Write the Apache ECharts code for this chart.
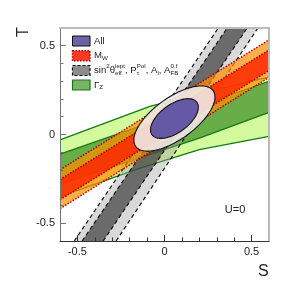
<!DOCTYPE html>
<html><head><meta charset="utf-8">
<script src="https://cdn.jsdelivr.net/npm/echarts@6/dist/echarts.min.js"></script>
<style>html,body{margin:0;padding:0;background:#fff;}#c{width:299px;height:284px;}</style>
</head><body><div id="c"></div>
<script>
// ---------------- data (S, T units) ----------------
const axisRange = [-0.6, 0.6];
const xTickValues = [-0.5, 0, 0.5];
const yTickValues = [-0.5, 0, 0.5];
const xMinorTicks = [-0.4, -0.3, -0.2, -0.1, 0.1, 0.2, 0.3, 0.4];
const yMinorTicks = [-0.4, -0.3, -0.2, -0.1, 0.1, 0.2, 0.3, 0.4];

// Gamma_Z band (68% inner, 95% outer), edges as [S, T]
const gzOuterUpper = [[-0.6, -0.03], [-0.08, 0.16], [0.6, 0.325]];
const gzOuterLower = [[-0.6, -0.35], [-0.14, -0.19], [0.2, -0.085], [0.6, -0.01]];
const gzInnerUpper = [[-0.6, -0.11], [0.6, 0.30]];
const gzInnerLower = [[-0.6, -0.28], [0.2, -0.02], [0.6, 0.125]];

// M_W band
const mwOuterUpper = [[-0.6, -0.198], [0.6, 0.533]];
const mwInnerUpper = [[-0.6, -0.254], [0.6, 0.476]];
const mwInnerLower = [[-0.6, -0.367], [0.6, 0.36]];
const mwOuterLower = [[-0.6, -0.418], [0.6, 0.322]];

// sin2theta_eff, P_tau, A_l, A_FB band
const swOuterLeft = [[-0.518, -0.6], [0.309, 0.6]];
const swInnerLeft = [[-0.473, -0.6], [0.36, 0.6]];
const swInnerRight = [[-0.352, -0.6], [0.475, 0.6]];
const swOuterRight = [[-0.278, -0.6], [0.536, 0.6]];

// "All" fit contours: centre, semi-axes, orientation
const allCenter = [0.057, 0.09];
const all68Axes = [0.158, 0.08];
const all95Axes = [0.272, 0.118];
const allAngleDeg = [35];

// texts
const legendRows = [
  [{t: 'All'}],
  [{t: 'M'}, {sub: 'W'}],
  [{t: 'sin'}, {sup: '2'}, {t: 'θ'}, {sup: 'lept', sub: 'eff'}, {t: ', P'}, {sup: 'Pol', sub: 'τ'},
   {t: ', A'}, {sub: 'l'}, {t: ', A'}, {sup: '0,f', sub: 'FB'}],
  [{t: 'Γ'}, {sub: 'Z'}]
];
const xAxisTitle = ['S'];
const yAxisTitle = ['T'];
const noteText = ['U=0'];

// ---------------- drawing ----------------
const FONT = '"Liberation Sans", Arial, Helvetica, sans-serif';
const chart = echarts.init(document.getElementById('c'), null, {renderer: 'canvas'});

function band(upper, lower) { return upper.concat(lower.slice().reverse()); }

function polySeries(pts, fill, z) {
  return {
    type: 'custom', silent: true, clip: true, z: z, xAxisIndex: 0, yAxisIndex: 0,
    data: [pts[0]],
    renderItem: function (params, api) {
      return {type: 'polygon', shape: {points: pts.map(p => api.coord(p))},
              style: {fill: fill, stroke: null}};
    }
  };
}
function edgeSeries(pts, color, width, type, z) {
  return {type: 'line', silent: true, z: z, xAxisIndex: 0, yAxisIndex: 0, data: pts, symbol: 'none',
          lineStyle: {color: color, width: width, type: type}, emphasis: {disabled: true}};
}
function ellipseSeries(center, axes, angleDeg, fill, z) {
  return {
    type: 'custom', silent: true, clip: true, z: z, xAxisIndex: 0, yAxisIndex: 0,
    data: [center],
    renderItem: function (params, api) {
      const phi = angleDeg * Math.PI / 180, pts = [];
      for (let k = 0; k < 120; k++) {
        const t = 2 * Math.PI * k / 120;
        const s = center[0] + axes[0] * Math.cos(t) * Math.cos(phi) - axes[1] * Math.sin(t) * Math.sin(phi);
        const u = center[1] + axes[0] * Math.cos(t) * Math.sin(phi) + axes[1] * Math.sin(t) * Math.cos(phi);
        pts.push(api.coord([s, u]));
      }
      return {type: 'polygon', shape: {points: pts}, style: {fill: fill, stroke: '#111', lineWidth: 1.1}};
    }
  };
}

const GZ_LINE = '#137a13', MW_LINE = '#b00000', SW_LINE = '#111';
const series = [
  polySeries(band(gzOuterUpper, gzOuterLower), '#d3fa9d', 1),
  polySeries(band(gzInnerUpper, gzInnerLower), '#68ad48', 1),
  edgeSeries(gzOuterUpper, GZ_LINE, 1.3, 'solid', 2),
  edgeSeries(gzOuterLower, GZ_LINE, 1.3, 'solid', 2),
  edgeSeries(gzInnerUpper, GZ_LINE, 1.3, 'solid', 2),
  edgeSeries(gzInnerLower, GZ_LINE, 1.3, 'solid', 2),

  polySeries(band(swOuterLeft, swOuterRight), 'rgba(160,160,160,0.4)', 3),
  polySeries(band(swInnerLeft, swInnerRight), 'rgba(60,60,60,0.7)', 3),
  edgeSeries(swOuterLeft, SW_LINE, 1.2, [4, 3], 4),
  edgeSeries(swInnerLeft, SW_LINE, 1.2, [4, 3], 4),
  edgeSeries(swInnerRight, SW_LINE, 1.2, [4, 3], 4),
  edgeSeries(swOuterRight, SW_LINE, 1.2, [4, 3], 4),

  polySeries(band(mwOuterUpper, mwOuterLower), 'rgba(255,140,0,0.7)', 5),
  polySeries(band(mwInnerUpper, mwInnerLower), 'rgba(255,40,0,0.85)', 5),
  edgeSeries(mwOuterUpper, MW_LINE, 1.5, [1.5, 1.5], 6),
  edgeSeries(mwInnerUpper, MW_LINE, 1.5, [1.5, 1.5], 6),
  edgeSeries(mwInnerLower, MW_LINE, 1.5, [1.5, 1.5], 6),
  edgeSeries(mwOuterLower, MW_LINE, 1.5, [1.5, 1.5], 6),

  ellipseSeries(allCenter, all95Axes, allAngleDeg[0], 'rgba(238,234,231,0.9)', 7),
  ellipseSeries(allCenter, all68Axes, allAngleDeg[0], '#6559a5', 8)
];

function fmt(v) { return Math.abs(v) < 1e-9 ? '0' : String(Math.round(v * 10) / 10); }
const base = {type: 'value', min: axisRange[0], max: axisRange[1], splitLine: {show: false}, z: 20};
const labelStyle = {color: '#222', fontSize: 11, fontFamily: FONT};

const xAxis = [
  Object.assign({}, base, {position: 'bottom',
    axisLine: {show: true, onZero: false, lineStyle: {color: '#333', width: 1}},
    axisTick: {show: true, inside: true, length: 3.5, customValues: xMinorTicks, lineStyle: {color: '#333'}},
    axisLabel: {show: false}}),
  Object.assign({}, base, {position: 'bottom',
    axisLine: {show: false, onZero: false},
    axisTick: {show: true, inside: true, length: 6, customValues: xTickValues, lineStyle: {color: '#333'}},
    axisLabel: Object.assign({show: true, customValues: xTickValues, margin: 5, formatter: fmt}, labelStyle)}),
  Object.assign({}, base, {position: 'top',
    axisLine: {show: true, onZero: false, lineStyle: {color: '#bbb', width: 2}},
    axisTick: {show: false}, axisLabel: {show: false}})
];
const yAxis = [
  Object.assign({}, base, {position: 'left',
    axisLine: {show: true, onZero: false, lineStyle: {color: '#777', width: 1}},
    axisTick: {show: true, inside: true, length: 3.5, customValues: yMinorTicks, lineStyle: {color: '#777'}},
    axisLabel: {show: false}}),
  Object.assign({}, base, {position: 'left',
    axisLine: {show: false, onZero: false},
    axisTick: {show: true, inside: true, length: 6, customValues: yTickValues, lineStyle: {color: '#777'}},
    axisLabel: Object.assign({show: true, customValues: yTickValues, margin: 5, formatter: fmt}, labelStyle)}),
  Object.assign({}, base, {position: 'right',
    axisLine: {show: true, onZero: false, lineStyle: {color: '#bbb', width: 2}},
    axisTick: {show: false}, axisLabel: {show: false}})
];

// ----- legend (drawn with graphic elements) -----
const mctx = document.createElement('canvas').getContext('2d');
function measure(str, size) { mctx.font = size + 'px ' + FONT; return mctx.measureText(str).width; }
const MAIN = 9.6, SCR = 6.2, SUP_DY = -3.8, SUB_DY = 2.6;
const graphics = [];
function txt(str, x, y, size) {
  graphics.push({type: 'text', x: x, y: y, z: 100, silent: true,
    style: {text: str, font: size + 'px ' + FONT, fill: '#222', align: 'left', verticalAlign: 'middle'}});
}
const rowY = [41, 55.7, 70.5, 85];
const boxStyles = [
  {fill: '#6a63a8', stroke: '#111', lineWidth: 1},
  {fill: '#ff3a22', stroke: '#b00000', lineWidth: 1.5, lineDash: [1.5, 1.5]},
  {fill: '#8c8c8c', stroke: '#111', lineWidth: 1.2, lineDash: [3, 2]},
  {fill: '#78b468', stroke: '#137a13', lineWidth: 1.2}
];
legendRows.forEach(function (row, i) {
  const cy = rowY[i];
  graphics.push({type: 'rect', z: 100, silent: true, shape: {x: 72.5, y: cy - 5, width: 17.5, height: 10}, style: boxStyles[i]});
  let x = 94;
  row.forEach(function (seg) {
    if (seg.t !== undefined) { txt(seg.t, x, cy, MAIN); x += measure(seg.t, MAIN); }
    else {
      let w = 0;
      if (seg.sup !== undefined) { txt(seg.sup, x, cy + SUP_DY, SCR); w = Math.max(w, measure(seg.sup, SCR)); }
      if (seg.sub !== undefined) { txt(seg.sub, x, cy + SUB_DY, SCR); w = Math.max(w, measure(seg.sub, SCR)); }
      x += w;
    }
  });
});
// axis titles and note
graphics.push({type: 'text', x: 23.5, y: 32, rotation: Math.PI / 2, z: 100, silent: true,
  style: {text: yAxisTitle[0], font: '16px ' + FONT, fill: '#222', align: 'center', verticalAlign: 'middle'}});
graphics.push({type: 'text', x: 263.3, y: 271.5, z: 100, silent: true,
  style: {text: xAxisTitle[0], font: '16px ' + FONT, fill: '#222', align: 'center', verticalAlign: 'middle'}});
graphics.push({type: 'text', x: 235, y: 209.5, z: 100, silent: true,
  style: {text: noteText[0], font: '11px ' + FONT, fill: '#222', align: 'center', verticalAlign: 'middle'}});

chart.setOption({
  animation: false,
  backgroundColor: '#fff',
  grid: {left: 60, top: 28, right: 30, bottom: 43, containLabel: false},
  xAxis: xAxis,
  yAxis: yAxis,
  series: series,
  graphic: {elements: graphics}
});
</script></body></html>
